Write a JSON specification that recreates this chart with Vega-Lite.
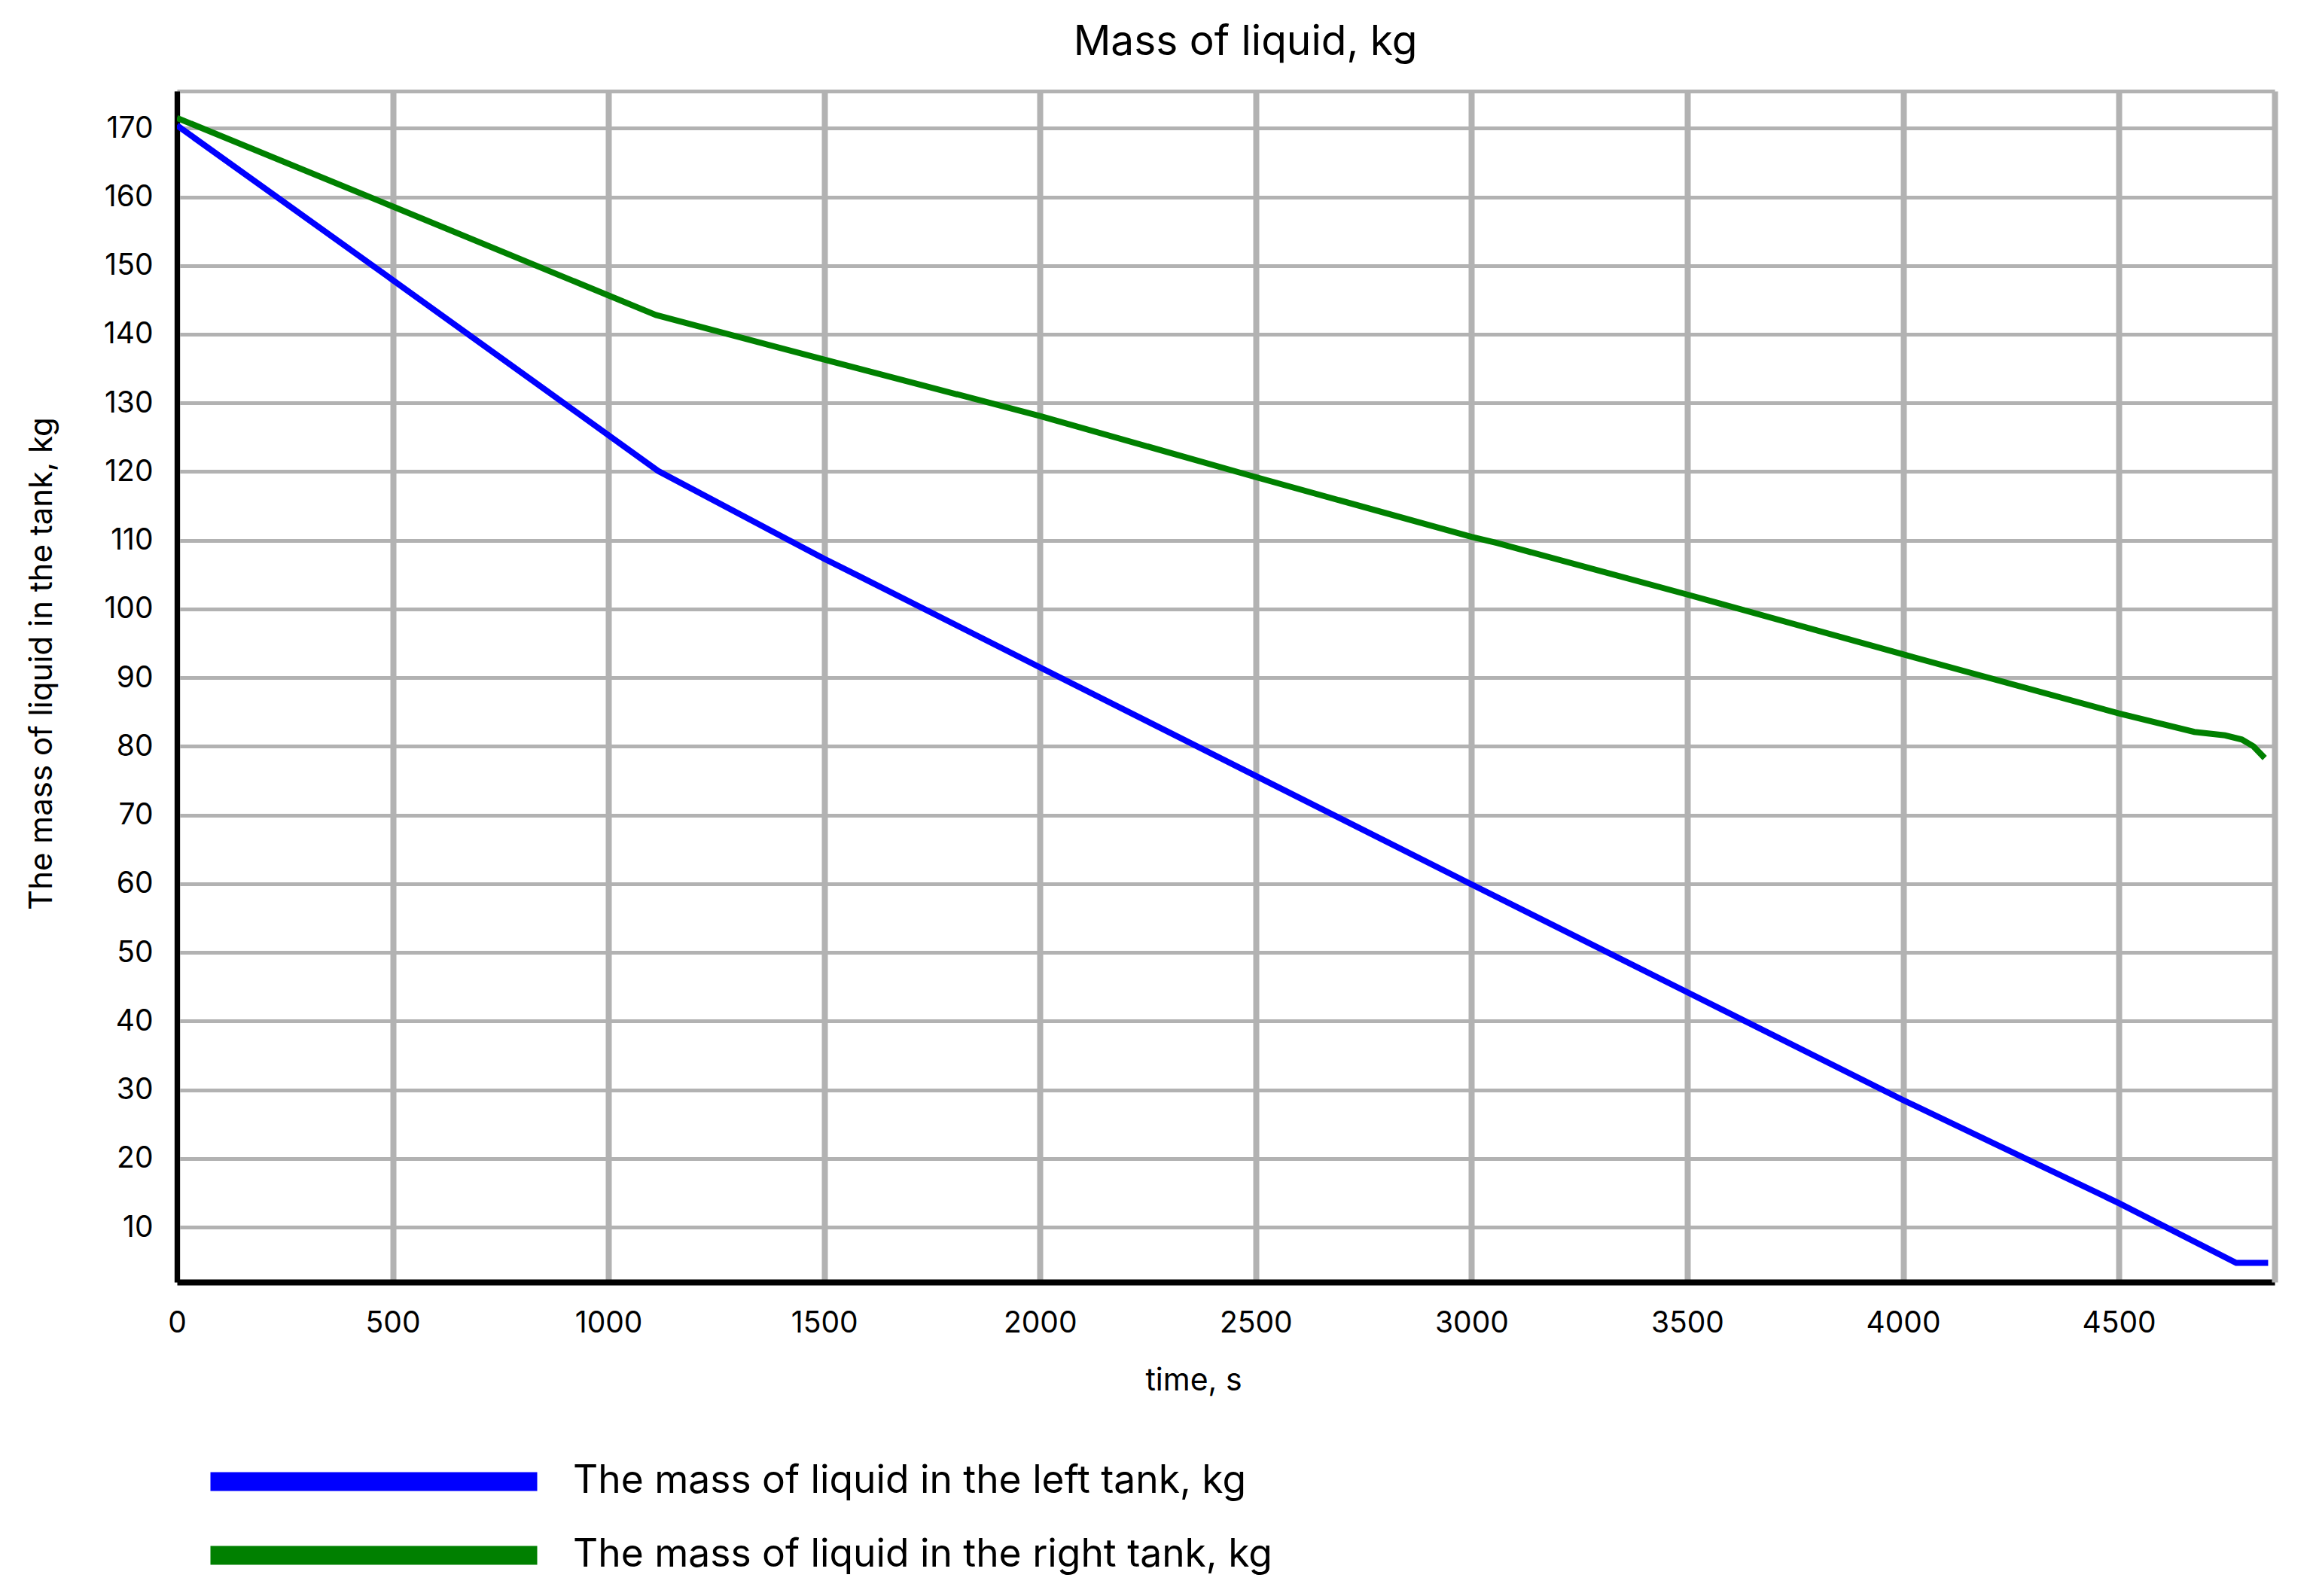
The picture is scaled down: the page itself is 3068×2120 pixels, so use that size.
{
  "$schema": "https://vega.github.io/schema/vega-lite/v6.json",
  "autosize": {"type": "none"},
  "padding": {"left": 235, "top": 121, "right": 47, "bottom": 417},
  "width": 2786,
  "height": 1582,
  "background": "white",
  "title": {
    "text": "Mass of liquid, kg",
    "font": "Inter",
    "fontSize": 55,
    "fontWeight": "normal",
    "color": "black",
    "anchor": "middle",
    "dx": 26,
    "offset": 36
  },
  "config": {
    "view": {"stroke": null},
    "axis": {"labelColor": "black", "titleColor": "black", "titleFontWeight": "normal"}
  },
  "data": {
    "values": [
      {"t": 0, "m": 170.4, "series": "The mass of liquid in the left tank, kg"},
      {"t": 500, "m": 147.9, "series": "The mass of liquid in the left tank, kg"},
      {"t": 1115, "m": 120.1, "series": "The mass of liquid in the left tank, kg"},
      {"t": 1500, "m": 107.3, "series": "The mass of liquid in the left tank, kg"},
      {"t": 1580, "m": 104.8, "series": "The mass of liquid in the left tank, kg"},
      {"t": 2000, "m": 91.5, "series": "The mass of liquid in the left tank, kg"},
      {"t": 2500, "m": 75.7, "series": "The mass of liquid in the left tank, kg"},
      {"t": 3000, "m": 59.9, "series": "The mass of liquid in the left tank, kg"},
      {"t": 3500, "m": 44.2, "series": "The mass of liquid in the left tank, kg"},
      {"t": 4000, "m": 28.5, "series": "The mass of liquid in the left tank, kg"},
      {"t": 4500, "m": 13.5, "series": "The mass of liquid in the left tank, kg"},
      {"t": 4772, "m": 4.8, "series": "The mass of liquid in the left tank, kg"},
      {"t": 4846, "m": 4.8, "series": "The mass of liquid in the left tank, kg"},
      {"t": 0, "m": 171.5, "series": "The mass of liquid in the right tank, kg"},
      {"t": 500, "m": 158.6, "series": "The mass of liquid in the right tank, kg"},
      {"t": 1110, "m": 142.8, "series": "The mass of liquid in the right tank, kg"},
      {"t": 1500, "m": 136.3, "series": "The mass of liquid in the right tank, kg"},
      {"t": 2000, "m": 128.1, "series": "The mass of liquid in the right tank, kg"},
      {"t": 2500, "m": 119.2, "series": "The mass of liquid in the right tank, kg"},
      {"t": 3000, "m": 110.5, "series": "The mass of liquid in the right tank, kg"},
      {"t": 3060, "m": 109.6, "series": "The mass of liquid in the right tank, kg"},
      {"t": 3100, "m": 108.9, "series": "The mass of liquid in the right tank, kg"},
      {"t": 3500, "m": 102.1, "series": "The mass of liquid in the right tank, kg"},
      {"t": 4000, "m": 93.4, "series": "The mass of liquid in the right tank, kg"},
      {"t": 4500, "m": 84.8, "series": "The mass of liquid in the right tank, kg"},
      {"t": 4675, "m": 82.1, "series": "The mass of liquid in the right tank, kg"},
      {"t": 4746, "m": 81.6, "series": "The mass of liquid in the right tank, kg"},
      {"t": 4785, "m": 81.0, "series": "The mass of liquid in the right tank, kg"},
      {"t": 4812, "m": 80.0, "series": "The mass of liquid in the right tank, kg"},
      {"t": 4838, "m": 78.3, "series": "The mass of liquid in the right tank, kg"}
    ]
  },
  "resolve": {"axis": {"x": "independent", "y": "independent"}},
  "layer": [
    {
      "mark": {"type": "line", "strokeWidth": 8, "clip": true},
      "encoding": {
        "x": {
          "field": "t",
          "type": "quantitative",
          "scale": {"domain": [0, 4861], "nice": false, "zero": false},
          "axis": {
            "title": "time, s",
            "values": [0, 500, 1000, 1500, 2000, 2500, 3000, 3500, 4000, 4500],
            "format": "d",
            "labelFont": "Inter",
            "labelFontSize": 39,
            "labelPadding": 35,
            "ticks": false,
            "domainColor": "black",
            "domainWidth": 8,
            "grid": true,
            "gridColor": "#b2b2b2",
            "gridWidth": 8,
            "gridOpacity": 1,
            "labelFlush": false,
            "titleFont": "Inter",
            "titleFontSize": 41,
            "titleX": 1350,
            "titleY": 131,
            "titleBaseline": "middle"
          }
        },
        "y": {
          "field": "m",
          "type": "quantitative",
          "scale": {"domain": [2, 175.4], "nice": false, "zero": false},
          "axis": {
            "title": "The mass of liquid in the tank, kg",
            "values": [10, 20, 30, 40, 50, 60, 70, 80, 90, 100, 110, 120, 130, 140, 150, 160, 170],
            "labelFont": "Inter",
            "labelFontSize": 39,
            "labelPadding": 32,
            "ticks": false,
            "domainColor": "black",
            "domainWidth": 7,
            "grid": true,
            "gridColor": "#b2b2b2",
            "gridWidth": 5,
            "gridOpacity": 1,
            "labelFlush": false,
            "titleFont": "Inter",
            "titleFontSize": 42,
            "titleX": -180,
            "titleY": 760,
            "titleBaseline": "middle"
          }
        },
        "color": {
          "field": "series",
          "type": "nominal",
          "scale": {
            "domain": ["The mass of liquid in the left tank, kg", "The mass of liquid in the right tank, kg"],
            "range": ["#0000ff", "#008000"]
          },
          "legend": {
            "title": null,
            "orient": "none",
            "legendX": 32,
            "legendY": 1822,
            "padding": 0,
            "symbolType": "stroke",
            "symbolSize": 188356,
            "symbolStrokeWidth": 25,
            "clipHeight": 50,
            "labelFont": "Inter",
            "labelFontSize": 51.5,
            "labelColor": "black",
            "labelOffset": 35,
            "labelLimit": 2000,
            "rowPadding": 46
          }
        }
      }
    },
    {
      "mark": {"type": "line", "opacity": 0},
      "encoding": {
        "x": {
          "field": "t",
          "type": "quantitative",
          "axis": {"orient": "top", "labels": false, "ticks": false, "grid": false, "title": null, "domainColor": "#b2b2b2", "domainWidth": 5}
        },
        "y": {
          "field": "m",
          "type": "quantitative",
          "axis": {"orient": "right", "labels": false, "ticks": false, "grid": false, "title": null, "domainColor": "#b2b2b2", "domainWidth": 8}
        },
        "detail": {"field": "series"}
      }
    }
  ]
}
